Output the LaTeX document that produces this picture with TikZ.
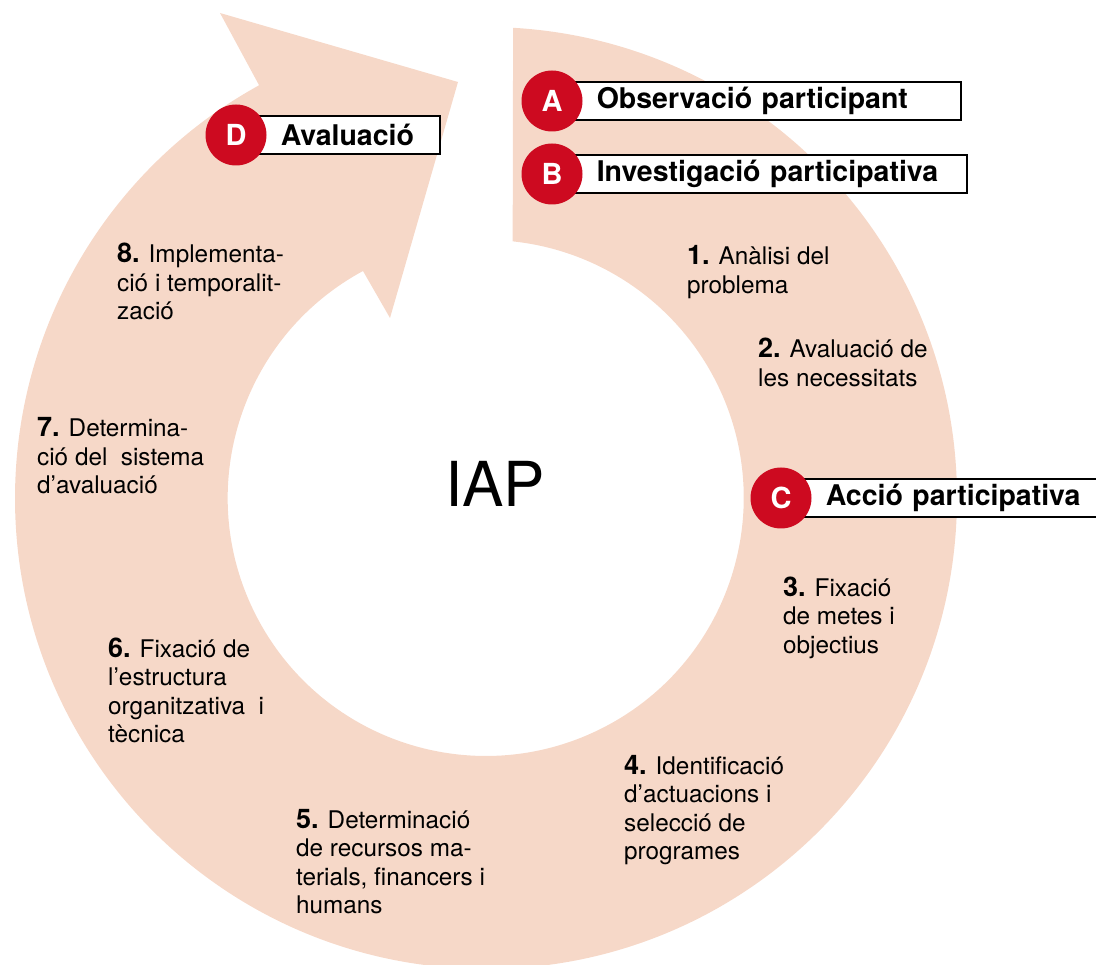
\documentclass[tikz,border=0pt]{standalone}
\usepackage{fontspec}
\setmainfont{TeX Gyre Heros}
\definecolor{ringpink}{RGB}{246,216,200}
\definecolor{tagred}{RGB}{205,10,32}
\newcommand{\stepno}[1]{{\bfseries\fontsize{27}{28.5}\selectfont #1.}}
\begin{document}
\begin{tikzpicture}[x=1pt, y=-1pt,
        steptext/.style={anchor=base west, align=left, inner sep=0pt, font=\fontsize{24.3}{28.5}\selectfont},
        tagdot/.style={circle, fill=tagred, minimum size=61pt, inner sep=0pt, text=white, font=\bfseries\fontsize{29}{29}\selectfont},
        tagbox/.style={draw, line width=1.6pt, fill=white, anchor=west, minimum height=38pt, inner xsep=0pt, align=left, font=\bfseries\fontsize{28.5}{28.5}\selectfont}]
        \useasboundingbox (0,0) rectangle (1096,965);

        % Ring with arrow head
        \fill[ringpink] (486,498) ++(-86.7:471) arc[start angle=-86.7, end angle=241.2, radius=471]
            -- (220,13) -- (458,82) -- (390,318) -- (363,271)
            arc[start angle=241.6, end angle=-84, radius=258] -- cycle;

        % Centre
        \node[font=\fontsize{62}{62}\selectfont] (iap) at (495,484) {IAP};

        % Steps (y = baseline of the last line)
        \foreach \n/\x/\y/\txt in {
            1/687/293.5/{Anàlisi del\\problema},
            2/758/386.5/{Avaluació de\\les necessitats},
            3/783/653/{Fixació\\de metes i\\objectius},
            4/624/859.5/{Identificació\\d’actuacions i\\selecció de\\programes},
            5/296/913.5/{Determinació\\de recursos ma-\\terials, financers i\\humans},
            6/108/742.5/{Fixació de\\l’estructura\\organitzativa\ \ i\\tècnica},
            7/37/494/{Determina-\\ció del\ \ sistema\\d’avaluació},
            8/117/320/{Implementa-\\ció i temporalit-\\zació}} {
            \node[steptext] (step\n) at (\x,\y) {\stepno{\n} \txt};
        }

        % Tags
        \foreach \t/\x/\y/\w/\txt in {
            A/552/101/408/{Observació participant},
            B/552/174/414/{Investigació participativa},
            C/781/498/330/{Acció participativa},
            D/236/135/203/{Avaluació}} {
            \node[tagbox, text width=\w pt] (box\t) at (\x,\y) {\hspace*{44pt}\txt};
            \node[tagdot] (dot\t) at (\x,\y) {\t};
        }
    \end{tikzpicture}
\end{document}
